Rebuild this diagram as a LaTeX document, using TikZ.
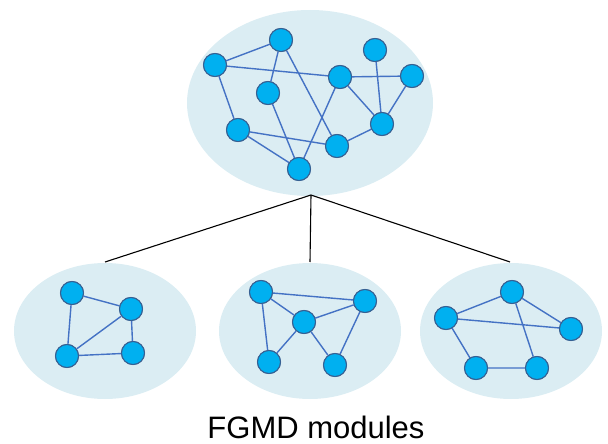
\documentclass[tikz,border=0pt]{standalone}
\usepackage{fontspec}
\setmainfont{Liberation Sans}
\definecolor{cloud}{RGB}{219,237,243}
\definecolor{nodefill}{RGB}{0,176,240}
\definecolor{nodeedge}{RGB}{55,96,146}
\definecolor{linkc}{RGB}{68,114,196}
\begin{document}
\begin{tikzpicture}[x=1pt,y=-1pt,
  cloudshape/.style={fill=cloud,draw=none},
  vtx/.style={circle,fill=nodefill,draw=nodeedge,line width=1pt,minimum size=23pt,inner sep=0pt},
  link/.style={draw=linkc,line width=1.4pt},
  tree/.style={draw=black,line width=1.1pt}]
\useasboundingbox (0,0) rectangle (608,444);
% clouds
\fill[cloudshape] (310,103) ellipse [x radius=123, y radius=93];
\fill[cloudshape] (105,331) ellipse [x radius=91, y radius=68];
\fill[cloudshape] (310,331) ellipse [x radius=91, y radius=68];
\fill[cloudshape] (511,331) ellipse [x radius=91, y radius=68];
% tree connectors
\coordinate (apex) at (311,195);
\coordinate (l) at (105,262);
\coordinate (m) at (310,262);
\coordinate (r) at (510,262);
\draw[tree] (l) -- (apex) -- (r);
\draw[tree] (apex) -- (m);
% top graph
\node[vtx] (A) at (281,40) {};
\node[vtx] (B) at (215,65) {};
\node[vtx] (C) at (268,93) {};
\node[vtx] (D) at (340,77) {};
\node[vtx] (E) at (375,50) {};
\node[vtx] (F) at (412,76) {};
\node[vtx] (G) at (238,130) {};
\node[vtx] (H) at (337,146) {};
\node[vtx] (I) at (382,124) {};
\node[vtx] (J) at (299,169) {};
\path[link] (B) -- (A) (B) -- (D) (D) -- (F) (A) -- (C) (A) -- (H)
  (B) -- (G) (G) -- (H) (G) -- (J) (C) -- (J) (D) -- (J) (D) -- (I)
  (E) -- (I) (F) -- (I) (H) -- (I);
\foreach \n in {A,B,C,D,E,F,G,H,I,J} \node[vtx] at (\n) {};
% bottom left
\node[vtx] (a1) at (72,293) {};
\node[vtx] (a2) at (131,309) {};
\node[vtx] (a3) at (67,356) {};
\node[vtx] (a4) at (133,353) {};
\path[link] (a1) -- (a2) (a1) -- (a3) (a2) -- (a3) (a2) -- (a4) (a3) -- (a4);
\foreach \n in {a1,a2,a3,a4} \node[vtx] at (\n) {};
% bottom middle
\node[vtx] (b1) at (261,292) {};
\node[vtx] (b2) at (365,301) {};
\node[vtx] (b3) at (304,322) {};
\node[vtx] (b4) at (269,362) {};
\node[vtx] (b5) at (335,365) {};
\path[link] (b1) -- (b2) (b1) -- (b3) (b3) -- (b5) (b1) -- (b4) (b3) -- (b4)
  (b3) -- (b2) (b2) -- (b5);
\foreach \n in {b1,b2,b3,b4,b5} \node[vtx] at (\n) {};
% bottom right
\node[vtx] (c1) at (512,292) {};
\node[vtx] (c2) at (446,318) {};
\node[vtx] (c3) at (571,329) {};
\node[vtx] (c4) at (476,368) {};
\node[vtx] (c5) at (537,368) {};
\path[link] (c1) -- (c2) (c1) -- (c3) (c2) -- (c3) (c1) -- (c5) (c2) -- (c4) (c4) -- (c5);
\foreach \n in {c1,c2,c3,c4,c5} \node[vtx] at (\n) {};
% caption
\node[font=\fontsize{31}{36}\selectfont,inner sep=0pt,anchor=base] (cap) at (316,438) {FGMD modules};
\end{tikzpicture}
\end{document}
